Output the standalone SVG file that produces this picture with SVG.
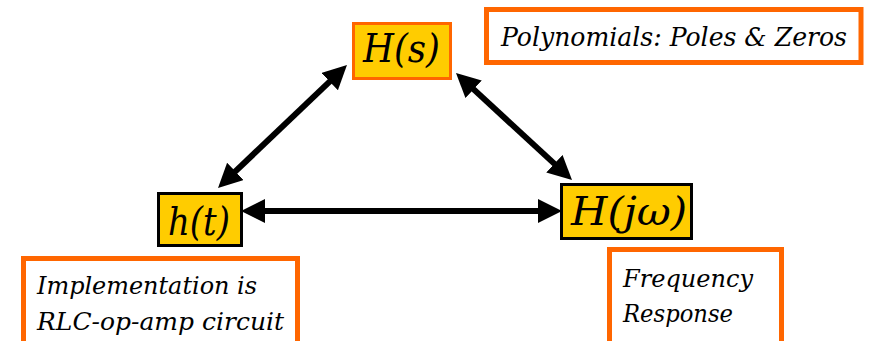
<svg xmlns="http://www.w3.org/2000/svg" width="871" height="341" viewBox="0 0 871 341">
<style>
.t{font-family:'DejaVu Serif',serif;font-style:italic;fill:#000}
.m{font-size:39px}
.s{font-size:25px}
.math{fill:#FFCC00;stroke-width:3}
.note{fill:#fff;stroke:#FF6600;stroke-width:5}
.conn{stroke:#000;stroke-width:6;fill:none;marker-start:url(#ah);marker-end:url(#ah)}
</style>
<defs>
<marker id="ah" viewBox="0 0 24 24" refX="12" refY="12" markerWidth="24" markerHeight="24" markerUnits="userSpaceOnUse" orient="auto-start-reverse">
<path d="M0,0 L24,12 L0,24 z" fill="#000"/>
</marker>
</defs>
<rect width="871" height="341" fill="#fff"/>
<g id="connectors">
<line class="conn" x1="338.3" y1="73.3" x2="226.7" y2="179.7"/>
<line class="conn" x1="464.8" y1="81.1" x2="563.2" y2="171.9"/>
<line class="conn" x1="253" y1="211" x2="550" y2="211"/>
</g>
<g id="node-Hs">
<rect class="math" x="353.5" y="23.5" width="97" height="55" stroke="#FF6600"/>
<text class="t m" x="363" y="62" textLength="77" lengthAdjust="spacingAndGlyphs">H(s)</text>
</g>
<g id="node-ht">
<rect class="math" x="158.5" y="193.5" width="83" height="52" stroke="#000"/>
<text class="t m" x="168" y="235" textLength="62" lengthAdjust="spacingAndGlyphs">h(t)</text>
</g>
<g id="node-Hjw">
<rect class="math" x="561.5" y="184.5" width="130" height="54" stroke="#000"/>
<text class="t m" x="571" y="225" textLength="116" lengthAdjust="spacingAndGlyphs">H(jω)</text>
</g>
<g id="node-poly">
<rect class="note" x="486.5" y="9.5" width="374.5" height="53"/>
<text class="t" x="501" y="46" font-size="26" textLength="346" lengthAdjust="spacingAndGlyphs">Polynomials: Poles &amp; Zeros</text>
</g>
<g id="node-impl">
<rect class="note" x="23.5" y="258.5" width="274" height="90"/>
<text class="t s" x="37" y="294" textLength="220" lengthAdjust="spacingAndGlyphs">Implementation is</text>
<text class="t s" x="37" y="330" textLength="247" lengthAdjust="spacingAndGlyphs">RLC-op-amp circuit</text>
</g>
<g id="node-freq">
<rect class="note" x="609.5" y="249.5" width="172" height="95"/>
<text class="t s" x="623" y="287" textLength="130" lengthAdjust="spacingAndGlyphs">Frequency</text>
<text class="t s" x="623" y="322" textLength="110" lengthAdjust="spacingAndGlyphs">Response</text>
</g>
</svg>
